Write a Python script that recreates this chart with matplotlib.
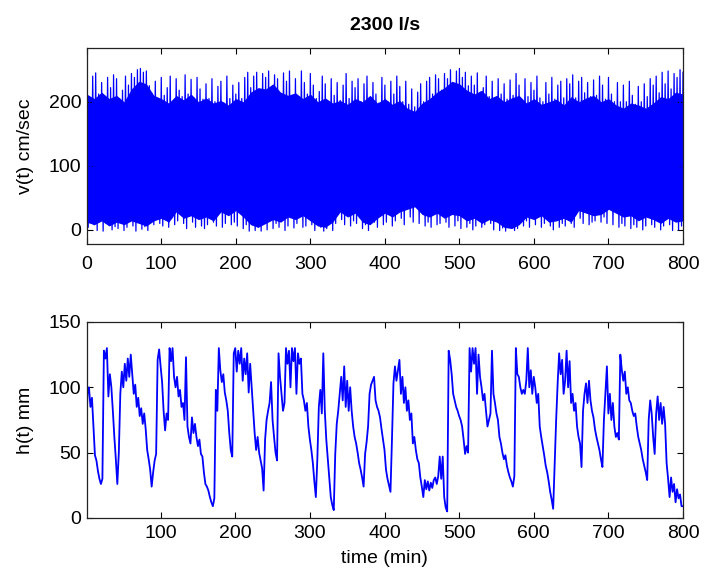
"""Velocity v(t) and water depth h(t) records for a 2300 l/s run (two stacked panels)."""
import matplotlib
matplotlib.use("Agg")
import matplotlib.pyplot as plt

plt.rcParams["font.family"] = ["Liberation Sans", "DejaVu Sans"]

BLUE = "#0000ff"

# ---- top panel: v(t), dense signal given as body envelope + spike extremes
t_body = list(range(0, 801, 10))
body_hi = [212, 205, 215, 205, 210, 200, 220, 232, 228, 210,
           205, 198, 210, 203, 212, 200, 206, 198, 202, 195,
           205, 200, 215, 222, 220, 228, 215, 210, 214, 205,
           212, 200, 206, 198, 202, 196, 205, 200, 210, 198,
           205, 196, 202, 190, 185, 198, 205, 215, 222, 232,
           228, 218, 212, 218, 205, 210, 200, 206, 210, 198,
           205, 196, 200, 204, 195, 208, 200, 206, 210, 200,
           205, 195, 190, 198, 195, 190, 198, 208, 205, 215,
           212]
body_lo = [12, 8, 14, 6, 12, 8, 14, 10, 6, 14,
           18, 12, 28, 18, 22, 16, 20, 14, 28, 22,
           30, 20, 8, 4, 10, 16, 12, 20, 16, 22,
           14, 6, 4, 12, 28, 20, 26, 12, 8, 18,
           26, 20, 28, 32, 36, 24, 20, 26, 18, 24,
           22, 14, 18, 10, 16, 12, 4, 2, 8, 20,
           16, 22, 12, 14, 18, 12, 30, 26, 22, 24,
           32, 26, 20, 22, 14, 20, 16, 10, 18, 12,
           14]

t_peak = list(range(0, 801, 4))
v_peak = [
    232, 206, 240, 245, 212, 230, 205, 238, 222, 242,
    236, 205, 218, 240, 226, 244, 238, 250, 252, 246,
    248, 225, 212, 232, 205, 238, 210, 222, 240, 200,
    236, 218, 208, 242, 212, 235, 206, 238, 220, 204,
    228, 205, 236, 200, 224, 232, 198, 240, 205, 226,
    212, 230, 205, 238, 246, 222, 240, 246, 212, 244,
    238, 248, 218, 242, 236, 212, 245, 232, 248, 210,
    236, 205, 248, 230, 212, 244, 226, 205, 216, 240,
    228, 200, 236, 210, 230, 202, 226, 244, 205, 232,
    222, 236, 200, 228, 240, 206, 230, 212, 198, 238,
    226, 200, 232, 212, 240, 224, 200, 232, 196, 220,
    192, 215, 228, 200, 232, 238, 212, 242, 236, 218,
    244, 236, 250, 226, 248, 252, 238, 246, 225, 240,
    226, 245, 215, 222, 240, 208, 232, 206, 236, 212,
    228, 204, 234, 210, 244, 226, 202, 236, 208, 230,
    218, 240, 206, 200, 230, 212, 238, 204, 226, 232,
    206, 236, 228, 242, 206, 232, 238, 214, 230, 208,
    234, 210, 240, 226, 204, 238, 212, 200, 230, 200,
    226, 200, 232, 210, 196, 224, 200, 228, 208, 236,
    226, 240, 214, 246, 228, 248, 220, 244, 238, 250,
    246,
]
t_trough = list(range(2, 800, 4))
v_trough = [
    4, 22, 8, -1, 16, -2, 10, 25, 0, 5,
    2, 20, -1, 4, 18, 6, -2, 15, 1, 5,
    -1, 14, 8, 20, 10, 6, 24, 4, 18, 8,
    14, 30, 10, 2, 26, 12, 4, 22, 6, 2,
    8, 24, 12, 6, 30, 4, 10, 32, 8, 12,
    6, 28, 2, 8, -2, 14, -1, 4, -2, 12,
    0, 16, 2, 10, 4, 20, -1, 6, 24, 3,
    10, 24, 4, 6, 20, 8, -1, 12, 4, -2,
    2, 14, -1, 10, 32, 16, 8, 30, 6, 14,
    10, 26, 2, 8, -1, 16, 12, 4, 24, 8,
    12, 30, 6, 14, 34, 18, 8, 38, 20, 12,
    40, 10, 30, 6, 12, 4, 26, 8, 10, 28,
    12, 4, 26, 6, 14, 2, 22, 4, 10, 0,
    6, 20, 4, 8, 18, 10, 0, 16, -1, 3,
    -2, 12, 4, -1, 2, 18, 6, 14, 4, 28,
    8, 26, 4, 10, 22, 6, 0, 18, 4, 10,
    6, 22, 10, 4, 36, 18, 10, 32, 8, 12,
    14, 30, 12, 20, 10, 40, 8, 28, 4, 10,
    6, 26, 2, 8, 4, 24, 0, 6, 22, 8,
    4, 20, 0, 6, 16, 8, -1, 18, 0, 6,
]

# ---- bottom panel: h(t) in mm, every 2 min
t_h = list(range(0, 801, 2))
h_mm = [
    62, 95, 100, 85, 92, 70, 48, 44, 36, 30,
    26, 30, 128, 122, 130, 93, 110, 100, 82, 62,
    45, 26, 50, 95, 112, 100, 118, 105, 122, 108,
    125, 110, 95, 102, 85, 92, 78, 84, 72, 80,
    68, 52, 45, 37, 24, 35, 44, 49, 121, 129,
    116, 104, 82, 67, 80, 75, 130, 120, 130, 108,
    100, 108, 93, 98, 85, 88, 75, 123, 70, 62,
    57, 77, 65, 72, 62, 55, 60, 49, 47, 35,
    26, 24, 21, 16, 12, 9, 15, 98, 82, 130,
    113, 104, 110, 96, 90, 82, 65, 52, 47, 126,
    130, 112, 128, 118, 130, 105, 122, 110, 126, 96,
    118, 100, 82, 65, 52, 62, 50, 44, 38, 21,
    60, 75, 82, 88, 104, 75, 62, 50, 44, 126,
    108, 95, 82, 88, 130, 118, 128, 100, 130, 120,
    130, 95, 126, 118, 122, 95, 90, 82, 88, 70,
    60, 52, 42, 28, 16, 45, 85, 98, 80, 126,
    82, 60, 45, 30, 16, 10, 6, 49, 72, 82,
    95, 108, 90, 116, 85, 105, 82, 100, 82, 70,
    62, 57, 50, 42, 37, 31, 24, 49, 58, 70,
    95, 102, 105, 108, 90, 85, 82, 77, 68, 60,
    52, 37, 30, 25, 20, 60, 103, 116, 105, 113,
    121, 95, 108, 88, 100, 82, 90, 75, 80, 57,
    62, 52, 45, 42, 31, 24, 16, 29, 22, 28,
    21, 27, 23, 29, 31, 26, 32, 47, 30, 47,
    16, 8, 5, 128, 121, 110, 95, 90, 85, 82,
    78, 75, 70, 60, 49, 55, 50, 130, 112, 130,
    118, 130, 95, 125, 108, 100, 90, 95, 82, 70,
    75, 80, 128, 95, 88, 80, 75, 62, 57, 50,
    45, 48, 40, 35, 31, 28, 24, 32, 130, 110,
    108, 100, 95, 98, 95, 105, 130, 100, 113, 95,
    108, 100, 88, 95, 70, 62, 55, 48, 40, 35,
    28, 20, 14, 7, 40, 75, 103, 126, 110, 121,
    95, 105, 128, 100, 120, 88, 95, 82, 88, 70,
    62, 57, 39, 82, 95, 103, 88, 105, 90, 82,
    77, 68, 62, 57, 52, 45, 39, 75, 95, 116,
    80, 95, 75, 88, 70, 62, 65, 60, 125, 113,
    105, 112, 95, 100, 90, 88, 82, 78, 80, 70,
    62, 57, 52, 45, 40, 35, 29, 75, 90, 80,
    62, 49, 80, 93, 75, 88, 72, 85, 72, 42,
    30, 16, 31, 20, 26, 12, 22, 15, 18, 9,
    9,
]

FS = 14


def style(ax, xpad):
    ax.tick_params(direction="in", top=True, right=True, length=4, width=0.8,
                   labelsize=FS, pad=4)
    ax.tick_params(axis="x", pad=xpad)
    for s in ax.spines.values():
        s.set_linewidth(0.9)
        s.set_color("#222222")


def main():
    fig = plt.figure(figsize=(7.04, 5.74), dpi=100)
    ax1 = fig.add_axes([0.1232, 0.575, 0.847, 0.3415])
    ax2 = fig.add_axes([0.1232, 0.0976, 0.847, 0.3415])

    # top: solid body + alternating extremes as one line
    ax1.fill_between(t_body, body_lo, body_hi, color=BLUE, lw=0)
    zt, zv = [], []
    for i, tp in enumerate(t_peak):
        zt.append(tp)
        zv.append(v_peak[i])
        if i < len(t_trough):
            zt.append(t_trough[i])
            zv.append(v_trough[i])
    ax1.plot(zt, zv, color=BLUE, lw=0.9)
    ax1.set_xlim(0, 800)
    ax1.set_ylim(-22, 284)
    ax1.set_xticks(range(0, 801, 100))
    ax1.set_yticks([0, 100, 200])
    ax1.set_ylabel("v(t) cm/sec", fontsize=FS)
    ax1.yaxis.set_label_coords(-0.088, 0.5)
    ax1.set_title("2300 l/s", fontsize=FS, fontweight="bold", pad=13)
    style(ax1, 9)

    ax2.plot(t_h, h_mm, color=BLUE, lw=1.3)
    ax2.set_xlim(1, 800)
    ax2.set_ylim(0, 150)
    ax2.set_xticks(range(100, 801, 100))
    ax2.set_yticks([0, 50, 100, 150])
    ax2.set_ylabel("h(t) mm", fontsize=FS)
    ax2.yaxis.set_label_coords(-0.088, 0.5)
    ax2.set_xlabel("time (min)", fontsize=FS)
    ax2.xaxis.set_label_coords(0.5, -0.165)
    style(ax2, 5)

    fig.savefig("out.png", dpi=100)


if __name__ == "__main__":
    main()
